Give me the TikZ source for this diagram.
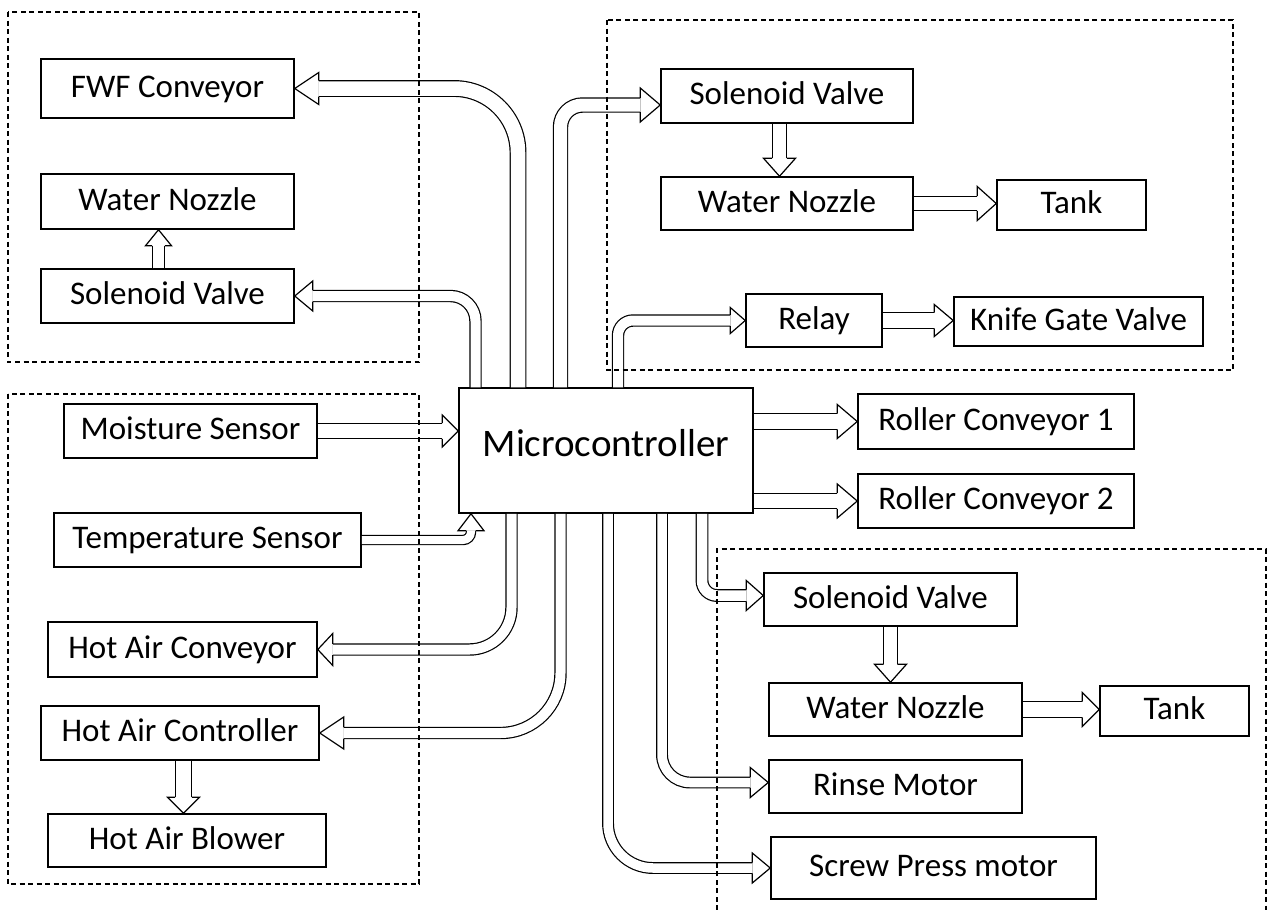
\documentclass[tikz,border=0pt]{standalone}
\usepackage{fontspec}
\setmainfont{Carlito}
\usetikzlibrary{calc}
\tikzset{
 blk/.style={draw=black, line width=1.5pt, inner sep=0pt, font=\fontsize{33}{36}\selectfont, text height=21pt, text depth=4pt},
 pipe/.style={draw=black, line width=1.2pt, double=white, double distance=#1, line cap=butt},
 headst/.style={draw=black, line width=1.2pt, line join=miter},
 grp/.style={draw=black, line width=1.2pt, dash pattern=on 5pt off 3.5pt},
}
\newcommand\ahd[5]{\draw[headst, shift={(#1)}, rotate=#2] (-#5,#3) -- (-#5,#4) -- (0,0) -- (-#5,-#4) -- (-#5,-#3);}
\begin{document}
\begin{tikzpicture}[x=1pt, y=-1pt]
\useasboundingbox (0,0) rectangle (1277,910);
% nodes
\node[blk, minimum width=253pt, minimum height=59pt] (fwf) at (167.5,88.5) {FWF Conveyor};
\node[blk, minimum width=253pt, minimum height=55pt] (wnL) at (167.5,201.5) {Water Nozzle};
\node[blk, minimum width=253pt, minimum height=54pt] (svL) at (167.5,296) {Solenoid Valve};
\node[blk, minimum width=253pt, minimum height=54pt] (moist) at (190.5,431) {Moisture Sensor};
\node[blk, minimum width=307pt, minimum height=54pt] (temp) at (207.5,540) {Temperature Sensor};
\node[blk, minimum width=269pt, minimum height=55pt] (hac) at (182.5,649.5) {Hot Air Conveyor};
\node[blk, minimum width=278pt, minimum height=54pt] (hactl) at (180,733) {Hot Air Controller};
\node[blk, minimum width=278pt, minimum height=53pt] (hab) at (187,840.5) {Hot Air Blower};
\node[blk, minimum width=294pt, minimum height=125pt, font=\fontsize{39}{44}\selectfont, text height=25pt, text depth=14pt] (mc) at (606,450.5) {Microcontroller};
\node[blk, minimum width=252pt, minimum height=54pt] (svT) at (787,96) {Solenoid Valve};
\node[blk, minimum width=252pt, minimum height=53pt] (wnT) at (787,203.5) {Water Nozzle};
\node[blk, minimum width=149pt, minimum height=50pt] (tankT) at (1071.5,205) {Tank};
\node[blk, minimum width=136pt, minimum height=53pt] (relay) at (814,320.5) {Relay};
\node[blk, minimum width=249pt, minimum height=49pt] (knife) at (1078.5,321.5) {Knife Gate Valve};
\node[blk, minimum width=276pt, minimum height=55pt] (rc1) at (996,421.5) {Roller Conveyor 1};
\node[blk, minimum width=276pt, minimum height=54pt] (rc2) at (996,501) {Roller Conveyor 2};
\node[blk, minimum width=253pt, minimum height=53pt] (svB) at (890.5,599.5) {Solenoid Valve};
\node[blk, minimum width=253pt, minimum height=53pt] (wnB) at (895.5,709.5) {Water Nozzle};
\node[blk, minimum width=149pt, minimum height=50pt] (tankB) at (1174.5,711) {Tank};
\node[blk, minimum width=253pt, minimum height=53pt] (rinse) at (895.5,786.5) {Rinse Motor};
\node[blk, minimum width=325pt, minimum height=62pt] (screw) at (933.5,868) {Screw Press motor};
% connectors from microcontroller (top)
\draw[pipe=14.5, rounded corners=64pt] ([xshift=-88pt]mc.north) |- ($(fwf.east)+(24,0)$);
\ahd{fwf.east}{180}{8}{16}{24}
\draw[pipe=10, rounded corners=25pt] ([xshift=-130.5pt]mc.north) |- ($(svL.east)+(18,0)$);
\ahd{svL.east}{180}{5.6}{15}{18}
\coordinate (tSVT) at ($(svT.west)+(0,9)$);
\draw[pipe=13, rounded corners=22pt] ([xshift=-45.5pt]mc.north) |- ($(tSVT)+(-20,0)$);
\ahd{tSVT}{0}{7.1}{17}{20}
\draw[pipe=10, rounded corners=15pt] ([xshift=12pt]mc.north) |- ($(relay.west)+(-15,0)$);
\ahd{relay.west}{0}{5.6}{13}{15}
% inputs
\coordinate (tM) at (mc.west |- moist.east);
\draw[pipe=14.5] (moist.east) -- ($(tM)+(-16,0)$);
\ahd{tM}{0}{7.9}{16}{16}
\coordinate (tT) at ($(mc.south)+(-135,0)$);
\draw[pipe=8, rounded corners=8pt] (temp.east) -| ($(tT)+(0,17)$);
\ahd{tT}{90}{4.6}{13}{17}
% outputs (bottom)
\draw[pipe=10, rounded corners=42pt] ([xshift=-94.5pt]mc.south) |- ($(hac.east)+(15,0)$);
\ahd{hac.east}{180}{5.6}{16}{15}
\draw[pipe=10, rounded corners=60pt] ([xshift=-45.5pt]mc.south) |- ($(hactl.east)+(24,0)$);
\ahd{hactl.east}{180}{5.6}{16}{24}
\draw[pipe=9.5, rounded corners=45pt] ([xshift=2pt]mc.south) |- ($(screw.west)+(-18,0)$);
\ahd{screw.west}{0}{5.4}{15}{18}
\coordinate (tR) at ($(rinse.west)+(0,-4)$);
\draw[pipe=9.5, rounded corners=28pt] ([xshift=56pt]mc.south) |- ($(tR)+(-18,0)$);
\ahd{tR}{0}{5.4}{15}{18}
\coordinate (tSB) at ($(svB.west)+(0,-4)$);
\draw[pipe=10.5, rounded corners=15pt] ([xshift=96pt]mc.south) |- ($(tSB)+(-17,0)$);
\ahd{tSB}{0}{5.9}{15}{17}
% right outputs
\draw[pipe=14.5] (mc.east |- rc1.west) -- ($(rc1.west)+(-20,0)$);
\ahd{rc1.west}{0}{7.9}{17}{20}
\draw[pipe=14.5] (mc.east |- rc2.west) -- ($(rc2.west)+(-20,0)$);
\ahd{rc2.west}{0}{7.9}{17}{20}
% internal links
\coordinate (sN) at ($(svL.north)+(-9,0)$);
\coordinate (tN) at (sN |- wnL.south);
\draw[pipe=11.5] (sN) -- ($(tN)+(0,16)$);
\ahd{tN}{90}{6.4}{13}{16}
\coordinate (sO) at ($(hactl.south)+(3.5,0)$);
\coordinate (tO) at (sO |- hab.north);
\draw[pipe=15.5] (sO) -- ($(tO)+(0,-16)$);
\ahd{tO}{-90}{8.4}{16}{16}
\coordinate (sP) at ($(svT.south)+(-7.5,0)$);
\coordinate (tP) at (sP |- wnT.north);
\draw[pipe=13.5] (sP) -- ($(tP)+(0,-18)$);
\ahd{tP}{-90}{7.4}{16}{18}
\coordinate (tQ) at (tankT.west |- wnT.east);
\draw[pipe=13.5] (wnT.east) -- ($(tQ)+(-19,0)$);
\ahd{tQ}{0}{7.4}{17}{19}
\coordinate (tRk) at (knife.west |- relay.east);
\draw[pipe=14.5] (relay.east) -- ($(tRk)+(-19,0)$);
\ahd{tRk}{0}{7.9}{16}{19}
\coordinate (tS) at (svB.south |- wnB.north);
\draw[pipe=12.5] (svB.south) -- ($(tS)+(0,-18)$);
\ahd{tS}{-90}{6.9}{16}{18}
\coordinate (tT2) at (tankB.west |- wnB.east);
\draw[pipe=14.5] (wnB.east) -- ($(tT2)+(-17,0)$);
\ahd{tT2}{0}{7.9}{17}{17}
% dashed groups
\draw[grp] (8,12) rectangle (419,362);
\draw[grp] (8,394) rectangle (419,884);
\draw[grp] (607,20) rectangle (1233,370);
\draw[grp] (717,910) -- (717,549) -- (1266,549) -- (1266,910);
\end{tikzpicture}
\end{document}
